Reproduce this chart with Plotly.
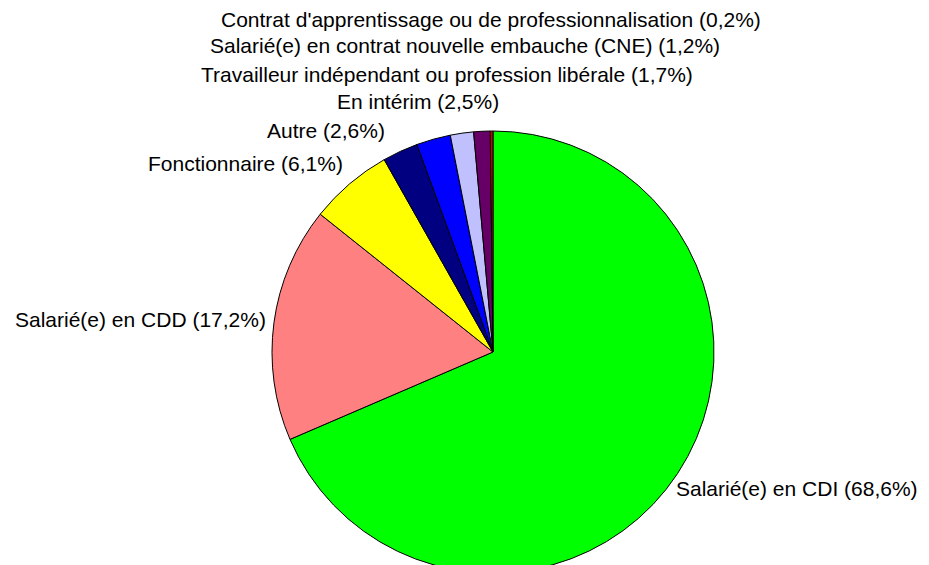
import plotly.graph_objects as go

# data, clockwise from 12 o'clock
categories = [
    "Salarié(e) en CDI",
    "Salarié(e) en CDD",
    "Fonctionnaire",
    "Autre",
    "En intérim",
    "Travailleur indépendant ou profession libérale",
    "Salarié(e) en contrat nouvelle embauche (CNE)",
    "Contrat d'apprentissage ou de professionnalisation",
]
shares = [68.6, 17.2, 6.1, 2.6, 2.5, 1.7, 1.2, 0.2]
slice_colors = ["#00ff00", "#ff8080", "#ffff00", "#000080",
                "#0000ff", "#c0c0ff", "#660066", "#cc0000"]

W, H = 913, 565
off = 8  # page body margin
font_family = "Liberation Sans, Arial, sans-serif"

# label placement in screen pixels (x centre, y centre)
label_pos = [
    (797, 489),
    (140, 319),
    (245, 164),
    (326, 130),
    (418, 102),
    (447, 74),
    (465, 46),
    (491, 20),
]

cx, cy, r = 493 - off, 352 - off, 221

fig = go.Figure(go.Pie(
    labels=categories,
    values=shares,
    sort=False,
    direction="clockwise",
    rotation=0,
    marker=dict(colors=slice_colors, line=dict(color="black", width=1)),
    textinfo="none",
    hoverinfo="label+percent",
    showlegend=False,
    domain=dict(x=[(cx - r) / W, (cx + r) / W],
                y=[max(0, (H - cy - r) / H), (H - cy + r) / H]),
))

for name, val, (px_, py_) in zip(categories, shares, label_pos):
    txt = f"{name} ({val:.1f}%)".replace(".", ",")
    fig.add_annotation(
        text=txt,
        xref="paper", yref="paper",
        x=(px_ - off) / W, y=1 - (py_ - off) / H,
        xanchor="center", yanchor="middle",
        showarrow=False,
        font=dict(family=font_family, size=21, color="black"),
    )

fig.update_layout(
    width=W, height=H,
    margin=dict(l=0, r=0, t=0, b=0, pad=0),
    paper_bgcolor="white",
    plot_bgcolor="white",
)

fig.write_html("out.html")
